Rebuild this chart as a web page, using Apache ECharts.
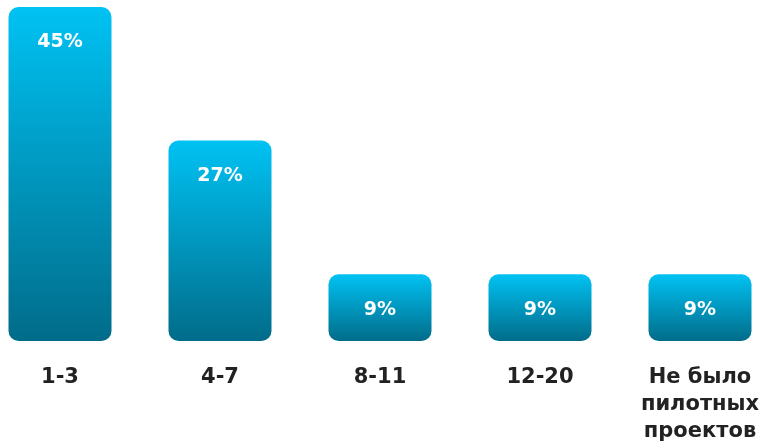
<!DOCTYPE html>
<html>
<head>
<meta charset="utf-8">
<script src="https://cdn.jsdelivr.net/npm/echarts@6/dist/echarts.min.js"></script>
<style>
  html, body { margin: 0; padding: 0; background: #fff; }
  #chart { width: 765px; height: 442px; }
</style>
</head>
<body>
<div id="chart"></div>
<script>
var categories = ['1-3', '4-7', '8-11', '12-20', 'Не было\nпилотных\nпроектов'];
var shares = [45, 27, 9, 9, 9];

var myChart = echarts.init(document.getElementById('chart'));
var option = {
  animation: false,
  grid: {
    left: -20,
    right: -15,
    top: 7,
    bottom: 101,
    outerBoundsMode: 'none',
    containLabel: false
  },
  xAxis: {
    type: 'category',
    data: categories,
    axisLine: { show: false },
    axisTick: { show: false },
    axisLabel: {
      interval: 0,
      margin: 23,
      color: '#222222',
      fontSize: 21,
      fontWeight: 'bold',
      fontFamily: 'DejaVu Sans',
      lineHeight: 27,
      hideOverlap: false
    }
  },
  yAxis: {
    type: 'value',
    min: 0,
    max: 45,
    show: false,
    splitLine: { show: false }
  },
  series: [{
    type: 'bar',
    data: shares,
    barWidth: 103,
    itemStyle: {
      borderRadius: 10,
      color: {
        type: 'linear',
        x: 0, y: 0, x2: 0, y2: 1,
        colorStops: [
          { offset: 0, color: '#00c2f3' },
          { offset: 1, color: '#016c8a' }
        ],
        global: false
      }
    },
    label: {
      show: true,
      position: 'insideTop',
      distance: 26,
      color: '#ffffff',
      fontSize: 19,
      fontWeight: 'bold',
      fontFamily: 'DejaVu Sans',
      formatter: '{c}%'
    }
  }]
};
myChart.setOption(option);
</script>
</body>
</html>
